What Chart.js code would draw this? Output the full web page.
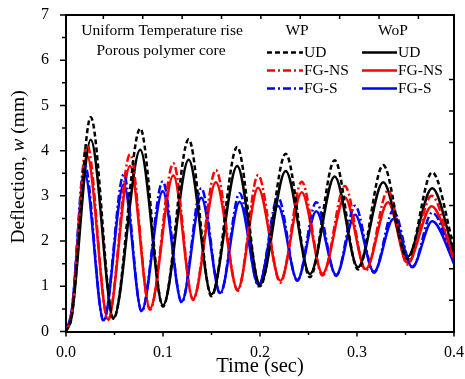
<!DOCTYPE html>
<html>
<head>
<meta charset="utf-8">
<script src="https://cdn.jsdelivr.net/npm/chart.js@4.4.1/dist/chart.umd.min.js"></script>
<style>
  body { margin: 0; background: #fff; }
</style>
</head>
<body>
<canvas id="myChart" width="465" height="379"></canvas>
<script>
// values (peaks / troughs of each curve)
const timeUd = [0, 0.006, 0.0255, 0.049, 0.0765, 0.1, 0.1265, 0.15, 0.1765, 0.2, 0.2265, 0.2515, 0.277, 0.301, 0.327, 0.352, 0.3775, 0.4];
const udWp = [0, 0.35, 4.74, 0.28, 4.49, 0.55, 4.25, 0.78, 4.08, 1.0, 3.93, 1.2, 3.79, 1.37, 3.68, 1.6, 3.52, 1.85];
const udWoP = [0, 0.35, 4.24, 0.3, 4.02, 0.58, 3.8, 0.82, 3.66, 1.04, 3.55, 1.27, 3.43, 1.42, 3.3, 1.65, 3.17, 1.72];

const timeNs = [0, 0.006, 0.0216, 0.0433, 0.066, 0.0866, 0.1107, 0.131, 0.1545, 0.177, 0.198, 0.221, 0.243, 0.2645, 0.2875, 0.309, 0.332, 0.352, 0.377, 0.4];
const nsWp = [0, 0.4, 4.15, 0.25, 3.92, 0.48, 3.72, 0.7, 3.57, 0.9, 3.46, 1.08, 3.31, 1.24, 3.22, 1.35, 3.12, 1.48, 3.0, 1.58];
const nsWoP = [0, 0.4, 3.9, 0.27, 3.66, 0.51, 3.45, 0.72, 3.3, 0.93, 3.18, 1.12, 3.08, 1.28, 2.97, 1.38, 2.86, 1.52, 2.77, 1.6];

const timeS = [0, 0.006, 0.0192, 0.0388, 0.0595, 0.078, 0.0997, 0.1193, 0.1395, 0.159, 0.179, 0.1985, 0.2185, 0.2385, 0.258, 0.2785, 0.298, 0.3175, 0.3375, 0.357, 0.3775, 0.4];
const sWp = [0, 0.47, 3.71, 0.23, 3.47, 0.44, 3.32, 0.64, 3.17, 0.83, 3.06, 1.0, 2.97, 1.12, 2.86, 1.23, 2.78, 1.3, 2.68, 1.42, 2.63, 1.5];
const sWoP = [0, 0.47, 3.5, 0.25, 3.25, 0.46, 3.1, 0.66, 2.96, 0.85, 2.87, 1.03, 2.78, 1.14, 2.66, 1.25, 2.58, 1.32, 2.49, 1.43, 2.44, 1.52];

// tick values
const xMajor = [0, 0.1, 0.2, 0.3, 0.4];
const xMinor = [0.05, 0.15, 0.25, 0.35];
const yMajor = [0, 1, 2, 3, 4, 5, 6, 7];
const yMinor = [0.5, 1.5, 2.5, 3.5, 4.5, 5.5, 6.5];
const topTicks = [0.0385, 0.0791, 0.1197, 0.1603, 0.2009, 0.2415, 0.2821, 0.3227, 0.3633];
const rightTicks = [0.691, 1.389, 2.086, 2.784, 3.481, 4.179, 4.876, 5.574];

const legendNames = ["UD", "FG-NS", "FG-S"];

const SERIF = '"Liberation Serif", "Times New Roman", serif';
Chart.defaults.font.family = SERIF;
Chart.defaults.color = "#000";

function toPoints(t, w) {
  return t.map((x, i) => ({ x: x, y: w[i] }));
}

const dashed = [5, 3];
const dashDot = [8, 3, 2, 3];

const datasets = [
  { label: "UD WP", data: toPoints(timeUd, udWp), borderColor: "#000", borderDash: dashed },
  { label: "FG-NS WP", data: toPoints(timeNs, nsWp), borderColor: "#ff0000", borderDash: dashDot },
  { label: "FG-S WP", data: toPoints(timeS, sWp), borderColor: "#0000ff", borderDash: dashDot },
  { label: "UD WoP", data: toPoints(timeUd, udWoP), borderColor: "#000", borderDash: [] },
  { label: "FG-NS WoP", data: toPoints(timeNs, nsWoP), borderColor: "#ff0000", borderDash: [] },
  { label: "FG-S WoP", data: toPoints(timeS, sWoP), borderColor: "#0000ff", borderDash: [] },
];
datasets.forEach((d) => {
  d.borderWidth = 2.5;
  d.pointRadius = 0;
  d.fill = false;
  d.cubicInterpolationMode = "monotone";
});

// ticks, frame, y title and the in-plot legend
const extras = {
  id: "extras",
  afterDraw(chart) {
    const ctx = chart.ctx;
    const xs = chart.scales.x, ys = chart.scales.y;
    const a = chart.chartArea;
    ctx.save();
    ctx.strokeStyle = "#000";
    ctx.lineWidth = 2;
    ctx.beginPath();
    ctx.moveTo(a.left, a.top); ctx.lineTo(a.right, a.top); ctx.lineTo(a.right, a.bottom);
    ctx.stroke();

    ctx.lineWidth = 1.5;
    ctx.beginPath();
    xMajor.forEach((v) => { const p = xs.getPixelForValue(v); ctx.moveTo(p, a.bottom); ctx.lineTo(p, a.bottom + 5); });
    xMinor.forEach((v) => { const p = xs.getPixelForValue(v); ctx.moveTo(p, a.bottom); ctx.lineTo(p, a.bottom + 3.5); });
    yMajor.forEach((v) => { const p = ys.getPixelForValue(v); ctx.moveTo(a.left, p); ctx.lineTo(a.left - 6, p); });
    yMinor.forEach((v) => { const p = ys.getPixelForValue(v); ctx.moveTo(a.left, p); ctx.lineTo(a.left - 4, p); });
    topTicks.forEach((v) => { const p = xs.getPixelForValue(v); ctx.moveTo(p, a.top); ctx.lineTo(p, a.top + 4); });
    rightTicks.forEach((v) => { const p = ys.getPixelForValue(v); ctx.moveTo(a.right, p); ctx.lineTo(a.right - 5, p); });
    ctx.stroke();

    // y axis title with italic w
    const parts = [["Deflection, ", "19.5px " + SERIF], ["w", "italic 19.5px " + SERIF], [" (mm)", "19.5px " + SERIF]];
    let total = 0;
    parts.forEach((p) => { ctx.font = p[1]; total += ctx.measureText(p[0]).width; });
    ctx.translate(19, 167);
    ctx.rotate(-Math.PI / 2);
    ctx.fillStyle = "#000";
    ctx.textBaseline = "middle";
    ctx.textAlign = "left";
    let x0 = -total / 2;
    parts.forEach((p) => { ctx.font = p[1]; ctx.fillText(p[0], x0, 0); x0 += ctx.measureText(p[0]).width; });
    ctx.restore();

    // legend
    ctx.save();
    ctx.fillStyle = "#000";
    ctx.font = "15.5px " + SERIF;
    ctx.textBaseline = "middle";
    ctx.textAlign = "center";
    ctx.fillText("Uniform Temperature rise", 162, 31);
    ctx.fillText("Porous polymer core", 161, 51);
    ctx.fillText("WP", 297, 31);
    ctx.fillText("WoP", 393, 31);
    ctx.textAlign = "left";
    const rows = [52.5, 70.5, 88.5];
    rows.forEach((ry, i) => {
      [[0, 267, 303], [3, 362, 397]].forEach((col) => {
        const ds = datasets[col[0] + i];
        ctx.strokeStyle = ds.borderColor;
        ctx.lineWidth = 2.5;
        ctx.setLineDash(ds.borderDash);
        ctx.beginPath();
        ctx.moveTo(col[1], ry);
        ctx.lineTo(col[2], ry);
        ctx.stroke();
        ctx.setLineDash([]);
        ctx.fillText(legendNames[i], col[2] + 1, ry);
      });
    });
    ctx.restore();
  },
};

const chart = new Chart(document.getElementById("myChart"), {
  type: "line",
  data: { datasets: datasets },
  options: {
    responsive: false,
    animation: false,
    layout: { padding: { top: 15, right: 11, left: 0, bottom: 0 } },
    plugins: { legend: { display: false }, tooltip: { enabled: false } },
    scales: {
      x: {
        type: "linear",
        min: 0,
        max: 0.4,
        afterFit: (s) => { s.height = 47.5; s.paddingLeft = 0; s.paddingRight = 0; },
        grid: { display: false },
        border: { display: true, color: "#000", width: 2 },
        ticks: {
          stepSize: 0.1,
          padding: 4,
          font: { size: 16 },
          maxRotation: 0,
          callback: (v) => v.toFixed(1),
        },
        title: { display: true, text: "Time (sec)", font: { size: 20.5 }, padding: { top: 0, bottom: 0 } },
      },
      y: {
        min: 0,
        max: 7,
        afterFit: (s) => { s.width = 66; s.paddingTop = 0; s.paddingBottom = 0; },
        grid: { display: false },
        border: { display: true, color: "#000", width: 2 },
        ticks: { stepSize: 1, padding: 9, font: { size: 16 } },
      },
    },
  },
  plugins: [extras],
});
</script>
</body>
</html>
